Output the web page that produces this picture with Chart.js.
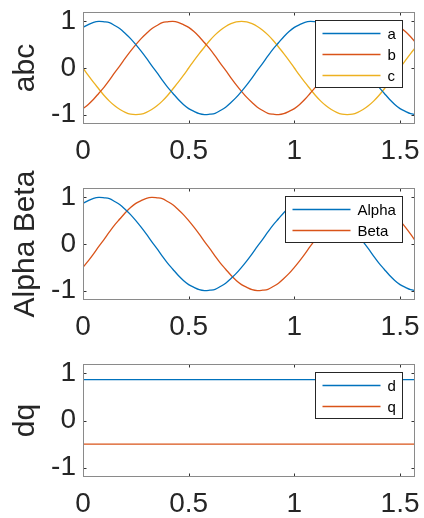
<!DOCTYPE html>
<html>
<head>
<meta charset="utf-8">
<title>abc / Alpha Beta / dq</title>
<script src="https://cdn.jsdelivr.net/npm/chart.js@4.4.1/dist/chart.umd.min.js"></script>
<style>
  html, body { margin: 0; padding: 0; background: #fff; }
  #wrap { position: relative; width: 424px; height: 518px; overflow: hidden; }
  canvas { position: absolute; left: 0; }
</style>
</head>
<body>
<div id="wrap">
  <canvas id="abcChart" width="424" height="176" style="top:0px"></canvas>
  <canvas id="abChart" width="424" height="186" style="top:166px"></canvas>
  <canvas id="dqChart" width="424" height="166" style="top:352px"></canvas>
</div>
<script>
"use strict"

// tid (s), samma för alla kurvor
const xs = [0, 0.025, 0.05, 0.075, 0.1, 0.125, 0.15, 0.175, 0.2, 0.225,
  0.25, 0.275, 0.3, 0.325, 0.35, 0.375, 0.4, 0.425, 0.45, 0.475,
  0.5, 0.525, 0.55, 0.575, 0.6, 0.625, 0.65, 0.675, 0.7, 0.725,
  0.75, 0.775, 0.8, 0.825, 0.85, 0.875, 0.9, 0.925, 0.95, 0.975,
  1, 1.025, 1.05, 1.075, 1.1, 1.125, 1.15, 1.175, 1.2, 1.225,
  1.25, 1.275, 1.3, 1.325, 1.35, 1.375, 1.4, 1.425, 1.45, 1.475,
  1.5, 1.525, 1.55, 1.575];

const aVals = [0.87, 0.93, 0.98, 1.00, 0.99, 0.97, 0.91, 0.84, 0.74, 0.63,
  0.50, 0.36, 0.21, 0.05, -0.10, -0.26, -0.41, -0.54, -0.67, -0.78,
  -0.87, -0.93, -0.98, -1.00, -0.99, -0.97, -0.91, -0.84, -0.74, -0.63,
  -0.50, -0.36, -0.21, -0.05, 0.10, 0.26, 0.41, 0.54, 0.67, 0.78,
  0.87, 0.93, 0.98, 1.00, 0.99, 0.97, 0.91, 0.84, 0.74, 0.63,
  0.50, 0.36, 0.21, 0.05, -0.10, -0.26, -0.41, -0.54, -0.67, -0.78,
  -0.87, -0.93, -0.98, -1.00];

const bVals = [-0.87, -0.78, -0.67, -0.54, -0.41, -0.26, -0.10, 0.05, 0.21, 0.36,
  0.50, 0.63, 0.74, 0.84, 0.91, 0.97, 0.99, 1.00, 0.98, 0.93,
  0.87, 0.78, 0.67, 0.54, 0.41, 0.26, 0.10, -0.05, -0.21, -0.36,
  -0.50, -0.63, -0.74, -0.84, -0.91, -0.97, -0.99, -1.00, -0.98, -0.93,
  -0.87, -0.78, -0.67, -0.54, -0.41, -0.26, -0.10, 0.05, 0.21, 0.36,
  0.50, 0.63, 0.74, 0.84, 0.91, 0.97, 0.99, 1.00, 0.98, 0.93,
  0.87, 0.78, 0.67, 0.54];

const cVals = [0.00, -0.16, -0.31, -0.45, -0.59, -0.71, -0.81, -0.89, -0.95, -0.99,
  -1.00, -0.99, -0.95, -0.89, -0.81, -0.71, -0.59, -0.45, -0.31, -0.16,
  0.00, 0.16, 0.31, 0.45, 0.59, 0.71, 0.81, 0.89, 0.95, 0.99,
  1.00, 0.99, 0.95, 0.89, 0.81, 0.71, 0.59, 0.45, 0.31, 0.16,
  0.00, -0.16, -0.31, -0.45, -0.59, -0.71, -0.81, -0.89, -0.95, -0.99,
  -1.00, -0.99, -0.95, -0.89, -0.81, -0.71, -0.59, -0.45, -0.31, -0.16,
  0.00, 0.16, 0.31, 0.45];

const alphaVals = [0.87, 0.93, 0.98, 1.00, 0.99, 0.97, 0.91, 0.84, 0.74, 0.63,
  0.50, 0.36, 0.21, 0.05, -0.10, -0.26, -0.41, -0.54, -0.67, -0.78,
  -0.87, -0.93, -0.98, -1.00, -0.99, -0.97, -0.91, -0.84, -0.74, -0.63,
  -0.50, -0.36, -0.21, -0.05, 0.10, 0.26, 0.41, 0.54, 0.67, 0.78,
  0.87, 0.93, 0.98, 1.00, 0.99, 0.97, 0.91, 0.84, 0.74, 0.63,
  0.50, 0.36, 0.21, 0.05, -0.10, -0.26, -0.41, -0.54, -0.67, -0.78,
  -0.87, -0.93, -0.98, -1.00];

const betaVals = [-0.50, -0.36, -0.21, -0.05, 0.10, 0.26, 0.41, 0.54, 0.67, 0.78,
  0.87, 0.93, 0.98, 1.00, 0.99, 0.97, 0.91, 0.84, 0.74, 0.63,
  0.50, 0.36, 0.21, 0.05, -0.10, -0.26, -0.41, -0.54, -0.67, -0.78,
  -0.87, -0.93, -0.98, -1.00, -0.99, -0.97, -0.91, -0.84, -0.74, -0.63,
  -0.50, -0.36, -0.21, -0.05, 0.10, 0.26, 0.41, 0.54, 0.67, 0.78,
  0.87, 0.93, 0.98, 1.00, 0.99, 0.97, 0.91, 0.84, 0.74, 0.63,
  0.50, 0.36, 0.21, 0.05];

// d och q är konstanta
const dqX = [0, 1.5708];
const dVals = [0.87, 0.87];
const qVals = [-0.50, -0.50];

const xTicks = [0, 0.5, 1, 1.5];
const yTicks = [-1, 0, 1];
const xMax = 1.5708;

const FONT = '"Liberation Sans", Arial, Helvetica, sans-serif';
const BLUE = '#0072BD';
const RED = '#D95319';
const YELLOW = '#EDB120';

// ram och inåtvända tickmarkeringar som i MATLAB
const frame = {
    id: 'frame',
    afterDatasetsDraw(chart) {
        const { ctx, chartArea: a, scales } = chart;
        const l = Math.round(a.left) + 0.5, r = Math.round(a.right) - 0.5;
        const t = Math.round(a.top) + 0.5, b = Math.round(a.bottom) - 0.5;
        ctx.save();
        ctx.strokeStyle = '#333';
        ctx.lineWidth = 1;
        ctx.beginPath();
        xTicks.forEach(v => {
            const px = Math.round(scales.x.getPixelForValue(v)) + 0.5;
            ctx.moveTo(px, b); ctx.lineTo(px, b - 3);
            ctx.moveTo(px, t); ctx.lineTo(px, t + 3);
        });
        yTicks.forEach(v => {
            const py = Math.round(scales.y.getPixelForValue(v)) + 0.5;
            ctx.moveTo(l, py); ctx.lineTo(l + 3, py);
            ctx.moveTo(r, py); ctx.lineTo(r - 3, py);
        });
        ctx.stroke();
        ctx.strokeStyle = '#8a8a8a';
        ctx.strokeRect(l, t, r - l, b - t);
        ctx.restore();
    }
};

// legend i övre högra hörnet med vit bakgrund
const legendBox = {
    id: 'legendBox',
    afterDatasetsDraw(chart) {
        const { ctx, chartArea: a } = chart;
        const sets = chart.data.datasets;
        ctx.save();
        ctx.font = '15px ' + FONT;
        const textW = Math.max(...sets.map(d => ctx.measureText(d.label).width));
        const w = Math.round(7 + 58 + 7 + textW + 7);
        const h = sets.length * 21 + 4;
        const right = Math.round(a.right) - 12.5;
        const left = right - w;
        const top = Math.round(a.top) + 8.5;
        ctx.fillStyle = '#fff';
        ctx.fillRect(left, top, w, h);
        ctx.strokeStyle = '#262626';
        ctx.lineWidth = 1;
        ctx.strokeRect(left, top, w, h);
        sets.forEach((d, i) => {
            const y = Math.round(top + 12 + i * 21) + 0.5;
            ctx.strokeStyle = d.borderColor;
            ctx.lineWidth = 1.5;
            ctx.beginPath();
            ctx.moveTo(left + 7, y);
            ctx.lineTo(left + 65, y);
            ctx.stroke();
            ctx.fillStyle = '#000';
            ctx.textBaseline = 'middle';
            ctx.textAlign = 'left';
            ctx.fillText(d.label, left + 72, y + 1);
        });
        ctx.restore();
    }
};

function series(label, x, y, color) {
    return {
        label: label,
        data: x.map((v, i) => ({ x: v, y: y[i] })),
        borderColor: color,
        backgroundColor: color,
        borderWidth: 1.3,
        pointRadius: 0,
        tension: 0.35,
        fill: false
    };
}

function buildChart(id, datasets, yTitle, padTop, xAxisH) {
    new Chart(document.getElementById(id), {
        type: 'line',
        data: { datasets: datasets },
        plugins: [frame, legendBox],
        options: {
            responsive: false,
            animation: false,
            layout: { padding: { top: padTop, right: 9, left: 0, bottom: 0 } },
            plugins: { legend: { display: false }, tooltip: { enabled: false } },
            scales: {
                x: {
                    type: 'linear',
                    min: 0,
                    max: xMax,
                    afterBuildTicks: s => { s.ticks = xTicks.map(v => ({ value: v })); },
                    afterFit: s => { s.height = xAxisH; s.paddingLeft = 0; s.paddingRight = 0; },
                    grid: { display: false, drawTicks: false },
                    border: { display: false },
                    ticks: {
                        font: { family: FONT, size: 28 },
                        color: '#262626',
                        padding: 10,
                        maxRotation: 0,
                        autoSkip: false,
                        callback: v => String(v)
                    }
                },
                y: {
                    min: -1.2,
                    max: 1.2,
                    afterBuildTicks: s => { s.ticks = yTicks.map(v => ({ value: v })); },
                    afterFit: s => { s.width = 83; s.paddingTop = 0; s.paddingBottom = 0; },
                    grid: { display: false, drawTicks: false },
                    border: { display: false },
                    ticks: {
                        font: { family: FONT, size: 28 },
                        color: '#262626',
                        padding: 7,
                        callback: v => String(v)
                    },
                    title: {
                        display: true,
                        text: yTitle,
                        font: { family: FONT, size: 30 },
                        color: '#262626',
                        padding: { top: 8, bottom: 0 }
                    }
                }
            }
        }
    });
}

buildChart('abcChart', [
    series('a', xs, aVals, BLUE),
    series('b', xs, bVals, RED),
    series('c', xs, cVals, YELLOW)
], 'abc', 12, 52);

buildChart('abChart', [
    series('Alpha', xs, alphaVals, BLUE),
    series('Beta', xs, betaVals, RED)
], 'Alpha Beta', 22, 52);

buildChart('dqChart', [
    series('d', dqX, dVals, BLUE),
    series('q', dqX, qVals, RED)
], 'dq', 12, 41);
</script>
</body>
</html>
